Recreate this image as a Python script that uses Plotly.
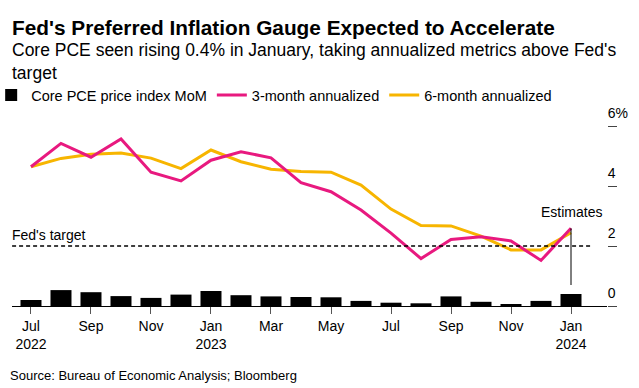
import plotly.graph_objects as go

months = ["Jul 2022", "Aug 2022", "Sep 2022", "Oct 2022", "Nov 2022", "Dec 2022",
          "Jan 2023", "Feb 2023", "Mar 2023", "Apr 2023", "May 2023", "Jun 2023",
          "Jul 2023", "Aug 2023", "Sep 2023", "Oct 2023", "Nov 2023", "Dec 2023",
          "Jan 2024"]
core_pce_mom = [0.20, 0.53, 0.46, 0.33, 0.27, 0.38, 0.50, 0.36, 0.32, 0.30,
                0.29, 0.17, 0.11, 0.09, 0.32, 0.14, 0.06, 0.17, 0.40]
three_month = [4.64, 5.42, 4.96, 5.57, 4.46, 4.17, 4.86, 5.14, 4.94, 4.11,
               3.81, 3.20, 2.43, 1.58, 2.22, 2.31, 2.17, 1.52, 2.59]
six_month = [4.64, 4.92, 5.06, 5.10, 4.93, 4.58, 5.20, 4.81, 4.56, 4.48,
             4.46, 4.03, 3.23, 2.68, 2.67, 2.33, 1.87, 1.87, 2.44]
tick_idx = [0, 2, 4, 6, 8, 10, 12, 14, 16, 18]
tick_text = ["Jul<br>2022", "Sep", "Nov", "Jan<br>2023", "Mar", "May", "Jul",
             "Sep", "Nov", "Jan<br>2024"]
y_ticks = [0, 2, 4, 6]
y_tick_text = ["0", "2", "4", "6%"]
fed_target = 2

x = list(range(len(months)))
FONT = "Liberation Sans"
PINK = "#e8197f"
YELLOW = "#f7b500"

fig = go.Figure()
fig.add_trace(go.Bar(x=x, y=core_pce_mom, name="Core PCE price index MoM",
                     marker=dict(color="#000000", line=dict(width=0)),
                     width=0.7, legendrank=1))
fig.add_trace(go.Scatter(x=x, y=six_month, name="6-month annualized", mode="lines",
                         line=dict(color=YELLOW, width=3), legendrank=3))
fig.add_trace(go.Scatter(x=x, y=three_month, name="3-month annualized", mode="lines",
                         line=dict(color=PINK, width=3), legendrank=2))

# Fed's target dashed line
fig.add_shape(type="line", xref="x", yref="y", x0=-0.63, x1=18.67,
              y0=fed_target, y1=fed_target,
              line=dict(color="#000000", width=1.3, dash="4px,3px"))
# Estimates marker line
fig.add_shape(type="line", xref="x", yref="y", x0=18, x1=18,
              y0=0.7, y1=three_month[-1], line=dict(color="#000000", width=1))

H = 186.0
ann = []
ann.append(dict(text="<b>Fed's Preferred Inflation Gauge Expected to Accelerate</b>",
                xref="paper", yref="paper", x=0, y=1 + (120 - 27) / H,
                xanchor="left", yanchor="middle", xshift=-2, showarrow=False,
                font=dict(family=FONT, size=20.8, color="#000000")))
ann.append(dict(text="Core PCE seen rising 0.4% in January, taking annualized metrics above Fed's<br>target",
                xref="paper", yref="paper", x=0, y=1 + (120 - 61.5) / H,
                xanchor="left", yanchor="middle", xshift=-2, showarrow=False, align="left",
                font=dict(family=FONT, size=17.5, color="#000000")))
ann.append(dict(text="Fed's target", xref="paper", yref="y", x=0, y=fed_target,
                xanchor="left", yanchor="bottom", yshift=1, xshift=-2, showarrow=False,
                font=dict(family=FONT, size=14, color="#000000")))
ann.append(dict(text="Estimates", xref="x", yref="y", x=18, y=three_month[-1],
                xanchor="center", yanchor="bottom", yshift=6, showarrow=False,
                font=dict(family=FONT, size=14, color="#000000")))
ann.append(dict(text="Source: Bureau of Economic Analysis; Bloomberg",
                xref="paper", yref="paper", x=0, y=-(375 - 306) / H,
                xanchor="left", yanchor="middle", xshift=-4, showarrow=False,
                font=dict(family=FONT, size=13, color="#000000")))

fig.update_layout(
    width=639, height=388,
    margin=dict(l=12, r=32, t=120, b=82, autoexpand=False),
    paper_bgcolor="#ffffff", plot_bgcolor="#ffffff",
    font=dict(family=FONT, size=14, color="#000000"),
    bargap=0.3,
    showlegend=True,
    legend=dict(orientation="h", x=-0.035, xanchor="left",
                y=1 + (120 - 95) / H, yanchor="middle",
                font=dict(family=FONT, size=14.5), traceorder="normal",
                itemwidth=30, bgcolor="rgba(0,0,0,0)"),
    annotations=ann,
    xaxis=dict(range=[-0.633, 19.2], tickmode="array", tickvals=tick_idx,
               ticktext=tick_text, showgrid=False, zeroline=False,
               showline=True, linecolor="#000000", linewidth=1,
               ticks="outside", ticklen=7, tickcolor="#555555", tickwidth=1,
               tickfont=dict(family=FONT, size=14)),
    yaxis=dict(range=[0, 6.2], side="right", tickmode="array", tickvals=y_ticks,
               ticktext=y_tick_text, showgrid=False, zeroline=False, showline=False,
               ticks="outside", ticklen=9, tickcolor="#444444", tickwidth=1,
               ticklabelstandoff=-12, ticklabelshift=-13,
               tickfont=dict(family=FONT, size=14)),
)

fig.write_html("out.html", config={"displayModeBar": False},
               post_script="document.body.style.margin='0';document.body.style.overflow='hidden';")
